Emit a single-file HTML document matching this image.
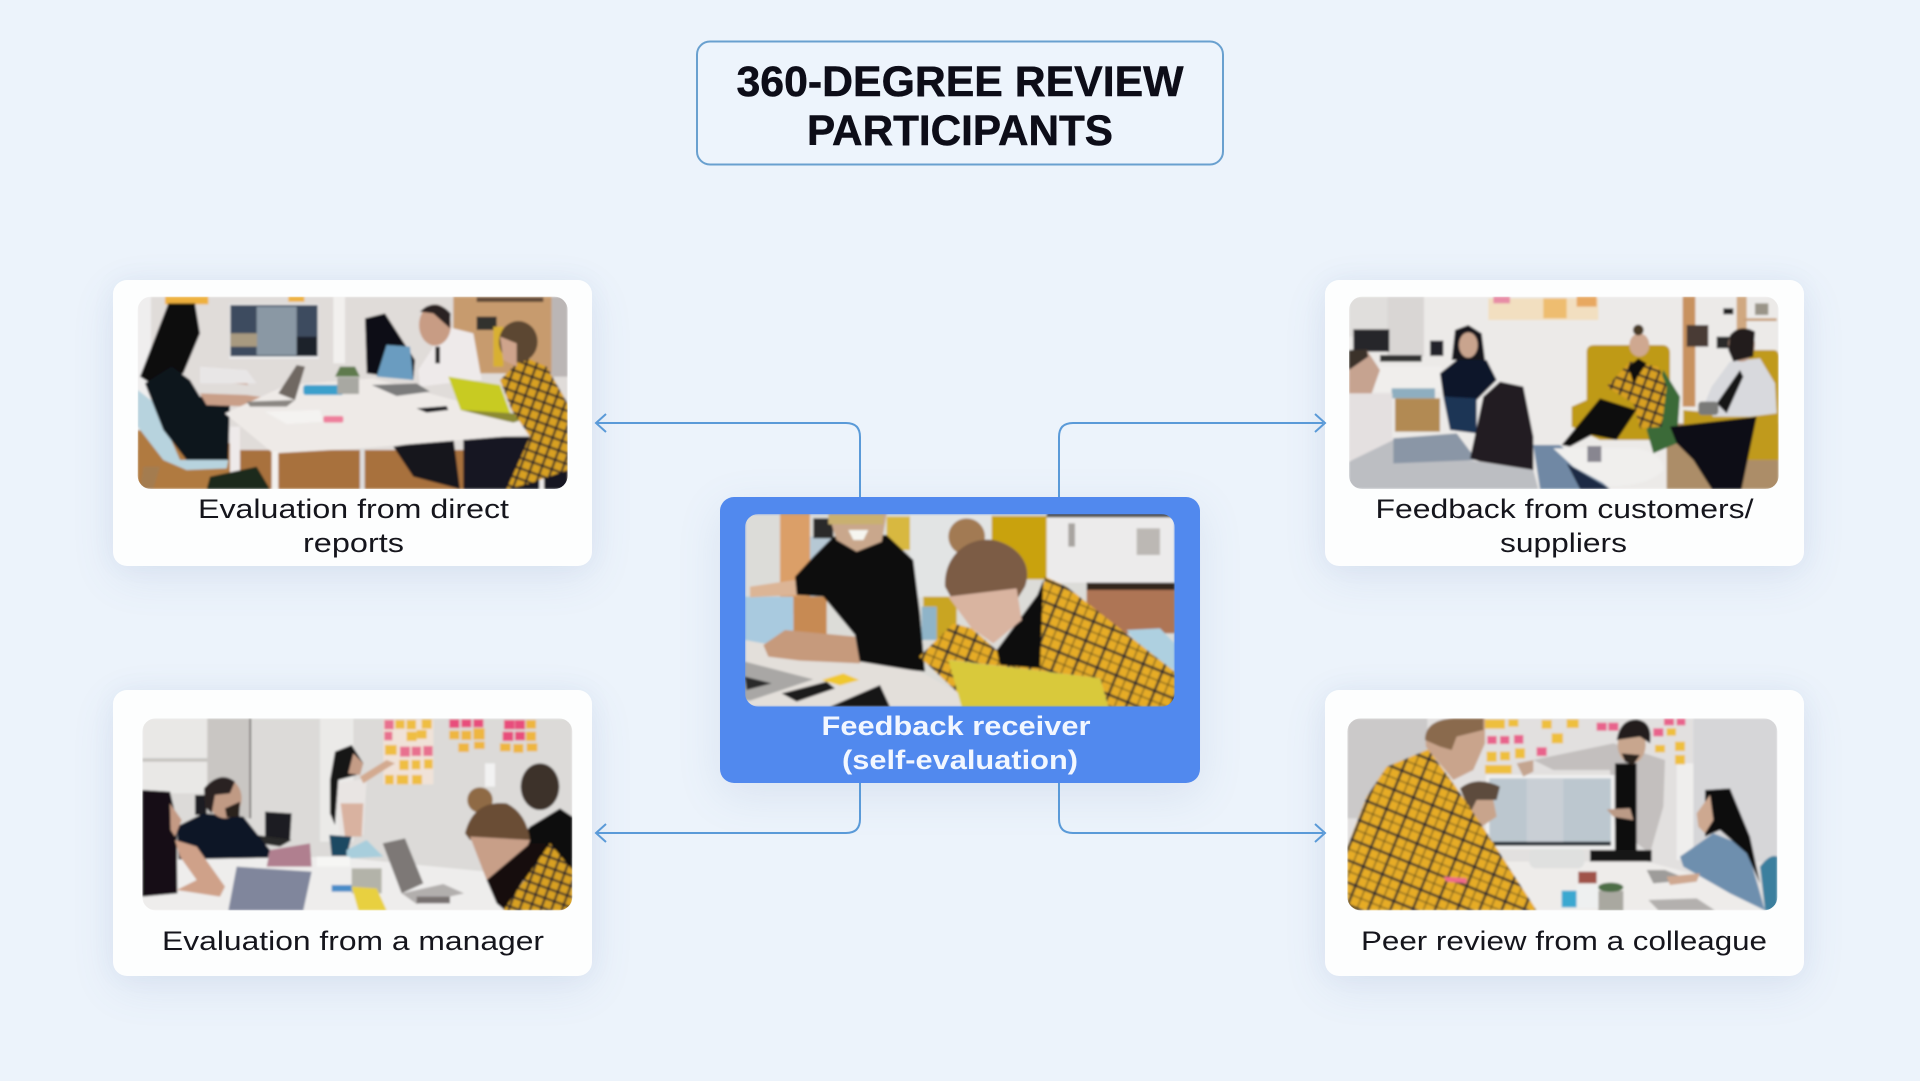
<!DOCTYPE html>
<html lang="en"><head><meta charset="utf-8"><title>360-Degree Review Participants</title>
<style>
html,body{margin:0;padding:0;background:#ecf3fb;width:1920px;height:1081px;overflow:hidden}
.c{position:absolute;border-radius:14px;background:#fdfefe;box-shadow:0 12px 44px rgba(90,120,170,.11),0 0 24px rgba(90,120,170,.06)}
svg{position:absolute;left:0;top:0}
text{font-family:"Liberation Sans",sans-serif;fill:#15151c}
</style></head><body>
<div class="c" style="left:113px;top:280px;width:479px;height:286px"></div>
<div class="c" style="left:1325px;top:280px;width:479px;height:286px"></div>
<div class="c" style="left:113px;top:690px;width:479px;height:286px"></div>
<div class="c" style="left:1325px;top:690px;width:479px;height:286px"></div>
<div class="c" style="left:720px;top:497px;width:480px;height:286px;background:#5189ee;box-shadow:0 12px 44px rgba(90,120,170,.13)"></div>
<svg width="1920" height="1081" viewBox="0 0 1920 1081" xmlns="http://www.w3.org/2000/svg">
<defs>
<pattern id="pl" width="62" height="62" patternUnits="userSpaceOnUse" patternTransform="rotate(22)">
<rect width="62" height="62" fill="#e6ac26"/><rect width="62" height="7" y="10" fill="#2a2a2e"/><rect width="7" height="62" x="10" fill="#2a2a2e"/><rect width="62" height="3" y="42" fill="#5a4a20"/><rect width="3" height="62" x="42" fill="#5a4a20"/></pattern>
<pattern id="pl2" width="30" height="30" patternUnits="userSpaceOnUse" patternTransform="rotate(20)">
<rect width="30" height="30" fill="#d8a020"/><rect width="30" height="6" y="5" fill="#24242a"/><rect width="6" height="30" x="5" fill="#24242a"/></pattern>
<filter id="b" x="-5%" y="-5%" width="110%" height="110%"><feGaussianBlur stdDeviation="3.5"/></filter>
<clipPath id="c1"><rect x="113" y="80" width="1290" height="577" rx="40"/></clipPath>
<clipPath id="c2"><rect x="135" y="102" width="1289" height="578" rx="40"/></clipPath>
<clipPath id="c3"><rect x="127" y="115" width="1290" height="576" rx="40"/></clipPath>
<clipPath id="c4"><rect x="147" y="80" width="1289" height="577" rx="40"/></clipPath>
<clipPath id="c5"><rect x="142" y="115" width="1290" height="576" rx="40"/></clipPath>
</defs>

<rect x="697" y="41.5" width="526" height="123" rx="13" fill="#edf4fc" stroke="#69a0cf" stroke-width="2"/>
<text x="960" y="96" font-size="43" font-weight="700" text-anchor="middle" textLength="447" lengthAdjust="spacingAndGlyphs" style="fill:#0d0d18;stroke:#0d0d18;stroke-width:.5">360-DEGREE REVIEW</text>
<text x="960" y="145" font-size="43" font-weight="700" text-anchor="middle" textLength="306" lengthAdjust="spacingAndGlyphs" style="fill:#0d0d18;stroke:#0d0d18;stroke-width:.5">PARTICIPANTS</text>

<g fill="none" stroke="#5a9ad8" stroke-width="2">
<path d="M860 497V437Q860 423 846 423H597"/><path d="M606 414L596 423L606 432"/>
<path d="M1059 497V437Q1059 423 1073 423H1323"/><path d="M1315 414L1325 423L1315 432"/>
<path d="M860 783V819Q860 833 846 833H597"/><path d="M606 824L596 833L606 842"/>
<path d="M1059 783V819Q1059 833 1073 833H1323"/><path d="M1315 824L1325 833L1315 842"/>
</g>

<!-- Image: top-left -->
<g transform="translate(100,270) scale(.33333)"><g clip-path="url(#c1)"><g filter="url(#b)">
<rect x="113" y="80" width="1290" height="577" fill="#e0dcd9"/>
<rect x="113" y="80" width="40" height="400" fill="#efeeee"/>
<rect x="700" y="80" width="35" height="200" fill="#f2f0ee"/>
<rect x="195" y="80" width="130" height="23" fill="#eeb13c"/><rect x="565" y="80" width="48" height="15" fill="#eeb13c"/>
<rect x="388" y="102" width="268" height="164" fill="#f0f0f0"/><rect x="391" y="105" width="262" height="154" fill="#3d4c5e"/>
<rect x="470" y="110" width="120" height="145" fill="#8a98a4"/><rect x="391" y="190" width="80" height="40" fill="#a89a80"/><rect x="590" y="200" width="62" height="58" fill="#1d242c"/>
<rect x="1060" y="80" width="295" height="230" fill="#c79b6e"/><rect x="1355" y="80" width="48" height="240" fill="#bbb6b5"/>
<rect x="1130" y="140" width="60" height="40" fill="#33302e"/><rect x="1180" y="170" width="30" height="120" fill="#d8b030"/><rect x="1130" y="82" width="200" height="14" fill="#5f4a38"/>
<rect x="113" y="540" width="1290" height="117" fill="#a8713c"/>
<polygon points="113,480 390,520 390,657 113,657" fill="#b07a40"/>
<rect x="1090" y="500" width="313" height="157" fill="#181820"/><polygon points="880,530 1060,500 1080,657 940,620" fill="#15151a"/>
<polygon points="113,360 165,400 240,570 385,570 380,595 260,600 190,570 113,470" fill="#b7d3de"/>
<polygon points="130,590 180,590 160,657 120,657" fill="#a47b50"/>
<polygon points="120,320 205,100 285,100 300,190 250,310 160,345" fill="#0e0c10"/>
<polygon points="215,290 270,330 300,380 390,380 385,570 260,570 190,480 135,340" fill="#11161f"/>
<polygon points="300,370 440,375 515,385 450,410 320,405" fill="#c99f88"/>
<polygon points="345,305 420,310 445,345 360,335" fill="#c9a08d"/>
<polygon points="300,290 440,300 470,340 300,340" fill="#e8e6e6"/>
<polygon points="375,430 560,345 820,325 1100,400 1390,465 1390,485 780,535 520,550" fill="#eeeae7"/>
<rect x="515" y="545" width="20" height="112" fill="#f3f1ee"/><rect x="390" y="470" width="30" height="140" fill="#eeeaea"/><rect x="1318" y="485" width="14" height="172" fill="#eeeaea"/><rect x="780" y="535" width="14" height="122" fill="#ddd"/>
<polygon points="330,620 470,590 510,657 320,657" fill="#1e2a1a"/>
<polygon points="535,370 590,285 615,290 585,390" fill="#6f6862"/><polygon points="440,395 585,390 560,410 450,410" fill="#8a8682"/>
<polygon points="495,425 660,420 670,455 560,462" fill="#f4f3f1"/><rect x="670" y="438" width="60" height="20" rx="6" fill="#ee7f9c"/>
<rect x="610" y="345" width="120" height="30" rx="8" fill="#3aa0cc"/>
<rect x="712" y="322" width="65" height="50" fill="#a8a8a2"/><polygon points="705,320 780,320 765,290 720,290" fill="#5e7a4e"/>
<polygon points="795,145 855,130 945,270 940,330 800,310" fill="#100f13"/><polygon points="860,225 930,230 940,330 830,320" fill="#6a9cc0"/>
<polygon points="955,300 1040,170 1120,190 1145,330 1040,340 960,350" fill="#eeeaea"/>
<ellipse cx="1005" cy="165" rx="48" ry="62" fill="#c89c84"/><path d="M960 125Q1005 80 1052 130L1050 175L1000 130Z" fill="#292220"/><rect x="1006" y="230" width="14" height="50" fill="#222"/>
<polygon points="815,345 950,340 990,365 890,378" fill="#7c7c7c"/>
<polygon points="950,415 1040,408 1045,420 980,428" fill="#17171a"/>
<polygon points="1045,320 1200,345 1240,455 1082,420" fill="#c8cb22"/><polygon points="1082,420 1240,458 1280,445 1240,430" fill="#8c8a30"/>
<polygon points="1200,330 1270,260 1340,290 1403,400 1403,600 1290,640 1220,657 1290,500 1235,420" fill="url(#pl2)"/>
<ellipse cx="1255" cy="215" rx="58" ry="62" fill="#5c4630"/><polygon points="1200,200 1250,220 1250,290 1210,270" fill="#cfa48c"/>
</g></g></g>

<!-- Image: centre -->
<g transform="translate(700,480) scale(.33333)"><g clip-path="url(#c2)"><g filter="url(#b)">
<rect x="135" y="102" width="1289" height="578" fill="#dcdcd8"/>
<rect x="240" y="102" width="90" height="300" fill="#db9f68"/><rect x="280" y="350" width="100" height="140" fill="#c78a52"/>
<rect x="135" y="350" width="145" height="140" fill="#a9cadf"/><rect x="330" y="170" width="70" height="180" fill="#b6c8d4"/><rect x="340" y="115" width="60" height="60" fill="#2c2a2a"/>
<rect x="560" y="110" width="70" height="100" fill="#d8b840"/><rect x="630" y="102" width="245" height="250" fill="#e2e4e4"/>
<rect x="875" y="108" width="190" height="190" fill="#c9a20c"/><rect x="670" y="350" width="100" height="130" fill="#c9a520"/><rect x="665" y="380" width="45" height="100" fill="#8fb4c8"/>
<rect x="1040" y="108" width="384" height="200" fill="#ecebeb"/><rect x="1105" y="130" width="20" height="70" fill="#a8a4a0"/><rect x="1310" y="145" width="70" height="80" fill="#bcb8b4"/><rect x="1040" y="102" width="384" height="10" fill="#4d4a42"/>
<rect x="1160" y="308" width="264" height="22" fill="#33261e"/><rect x="1160" y="330" width="264" height="130" fill="#ae7454"/>
<polygon points="1280,450 1380,445 1424,490 1424,570 1350,540" fill="#aed0e0"/>
<polygon points="150,320 285,300 295,345 150,352" fill="#dcb596"/>
<polygon points="285,290 340,230 400,170 560,165 640,240 660,400 675,575 480,555 465,465 370,350 290,345" fill="#0c0c0e"/>
<polygon points="385,102 560,102 545,185 470,215 410,180" fill="#c9a78c"/><rect x="385" y="105" width="165" height="28" fill="#c9b070"/><polygon points="445,150 505,150 490,180 460,180" fill="#f6f6f0"/>
<polygon points="135,480 480,545 660,575 780,640 785,680 135,680" fill="#e3dfda"/>
<polygon points="190,495 255,450 465,470 480,550 300,542 205,530" fill="#c69a7c"/>
<polygon points="135,545 340,598 150,662 135,660" fill="#a9a7a5"/><polygon points="135,590 215,610 140,630" fill="#2a2a2c"/>
<polygon points="245,640 380,605 405,625 290,665" fill="#1f1b1b"/><polygon points="365,600 430,580 478,600 420,616" fill="#f0c82e"/><polygon points="390,680 540,615 570,680" fill="#171519"/>
<polygon points="658,530 760,430 815,445 890,510 1020,370 1035,290 1100,320 1424,575 1424,680 1225,680 1200,595 750,540 775,640" fill="url(#pl)"/>
<polygon points="890,510 1012,345 1030,300 1020,565 900,555" fill="#0f0f10"/>
<circle cx="800" cy="170" r="55" fill="#a27a52"/><path d="M735 320C730 230 800 170 880 180C950 195 1000 250 975 320L950 360L760 365Z" fill="#7b5c44"/>
<polygon points="745,350 950,325 965,420 880,490 815,445" fill="#d9b4a0"/>
<polygon points="745,540 1200,595 1225,680 785,680" fill="#d9c93a"/>
</g></g></g>

<!-- Image: bottom-left -->
<g transform="translate(100,680) scale(.33333)"><g clip-path="url(#c3)"><g filter="url(#b)">
<rect x="127" y="115" width="1290" height="576" fill="#dcdad8"/>
<rect x="127" y="115" width="195" height="225" fill="#e9e8e6"/><rect x="127" y="235" width="195" height="10" fill="#c5c2bf"/><rect x="322" y="115" width="130" height="300" fill="#c9c6c3"/><rect x="449" y="115" width="4" height="300" fill="#4a4644"/><rect x="660" y="115" width="100" height="370" fill="#ebeae8"/>
<rect x="850" y="118" width="150" height="195" fill="#f0e2d8"/>
<g fill="#e8718f"><rect x="853" y="120" width="28" height="28"/><rect x="853" y="155" width="24" height="26"/><rect x="900" y="200" width="30" height="30"/><rect x="935" y="200" width="28" height="28"/><rect x="970" y="198" width="28" height="30"/></g>
<g fill="#efbe43"><rect x="886" y="120" width="28" height="26"/><rect x="920" y="120" width="28" height="28"/><rect x="965" y="118" width="30" height="28"/><rect x="920" y="155" width="30" height="28"/><rect x="950" y="150" width="30" height="26"/><rect x="855" y="195" width="35" height="30"/><rect x="898" y="240" width="28" height="30"/><rect x="935" y="240" width="26" height="28"/><rect x="972" y="238" width="26" height="28"/><rect x="855" y="285" width="26" height="28"/><rect x="890" y="285" width="35" height="28"/><rect x="936" y="285" width="30" height="28"/></g>
<g fill="#e84d7c"><rect x="1048" y="118" width="30" height="26"/><rect x="1084" y="118" width="30" height="24"/><rect x="1120" y="118" width="30" height="24"/><rect x="1212" y="120" width="32" height="28"/><rect x="1245" y="120" width="30" height="28"/><rect x="1208" y="155" width="32" height="28"/><rect x="1245" y="155" width="30" height="26"/></g>
<g fill="#eeb640"><rect x="1048" y="152" width="30" height="26"/><rect x="1084" y="152" width="30" height="28"/><rect x="1120" y="145" width="34" height="34"/><rect x="1075" y="190" width="32" height="26"/><rect x="1122" y="185" width="32" height="22"/><rect x="1278" y="120" width="30" height="26"/><rect x="1278" y="155" width="30" height="28"/><rect x="1200" y="190" width="32" height="24"/><rect x="1240" y="192" width="30" height="26"/><rect x="1280" y="190" width="32" height="24"/></g>
<rect x="1155" y="250" width="30" height="70" fill="#f2f2f2"/>
<polygon points="700,310 800,295 790,465 720,470" fill="#e9e5e3"/><polygon points="780,290 860,240 885,250 860,265 790,310" fill="#d3aa90"/><polygon points="722,370 790,370 785,470 735,470" fill="#d9b2a0"/>
<polygon points="690,300 705,215 755,195 790,250 770,285 715,300 705,435 690,400" fill="#151315"/><polygon points="760,220 790,250 780,285 745,280" fill="#c49c86"/>
<polygon points="688,465 755,470 740,528 695,528" fill="#1c4a62"/>
<polygon points="495,395 575,400 570,480 495,470" fill="#1e1e20"/><polygon points="470,465 575,480 540,500 480,490" fill="#2c2c2c"/>
<rect x="285" y="345" width="35" height="60" fill="#1d1d20"/>
<polygon points="230,440 310,400 430,410 510,510 500,550 370,590 240,590" fill="#0e1525"/>
<ellipse cx="375" cy="355" rx="50" ry="60" fill="#c09a84"/><path d="M312 325Q360 270 405 305L390 340L345 345L335 400L315 380Z" fill="#2a2320"/><polygon points="375,385 420,365 418,410 380,412" fill="#2a211e"/>
<polygon points="127,540 700,530 1160,575 1210,691 127,691" fill="#eeedec"/>
<polygon points="127,330 210,335 230,420 232,640 127,650" fill="#121012"/><polygon points="225,480 290,500 375,620 360,650 230,630 290,600 240,530" fill="#cfa189"/><polygon points="210,370 245,420 225,470 212,450" fill="#c49a84"/>
<polygon points="510,510 630,490 635,560 500,560" fill="#b07f8f"/>
<polygon points="410,560 635,575 610,691 385,691" fill="#80869c"/>
<polygon points="740,510 800,480 850,530 740,535" fill="#a8cedc"/><rect x="755" y="565" width="90" height="75" fill="#b3b3a9"/><rect x="695" y="615" width="60" height="20" fill="#4a8cc8"/>
<polygon points="755,620 830,625 860,691 775,691" fill="#e8d040"/><rect x="650" y="530" width="100" height="30" fill="#f6f6f4"/>
<polygon points="848,490 915,475 970,610 905,640" fill="#7d7876"/><polygon points="905,640 1030,612 1092,640 950,672" fill="#b2afad"/><rect x="950" y="650" width="100" height="20" fill="#77716f"/>
<ellipse cx="1320" cy="320" rx="58" ry="70" fill="#3e332a"/><polygon points="1290,440 1380,385 1417,410 1417,600 1160,600" fill="#0e0d10"/>
<circle cx="1140" cy="360" r="38" fill="#8f6a44"/><path d="M1095 460Q1120 360 1220 370Q1280 400 1290 480L1110 480Z" fill="#6b4e36"/>
<polygon points="1110,470 1290,480 1225,640 1160,600" fill="#c89f88"/><polygon points="1160,600 1290,490 1340,490 1215,691 1190,670" fill="#14110f"/>
<polygon points="1210,691 1350,490 1417,570 1417,691" fill="url(#pl2)"/>
</g></g></g>

<!-- Image: top-right -->
<g transform="translate(1300,270) scale(.33333)"><g clip-path="url(#c4)"><g filter="url(#b)">
<rect x="147" y="80" width="1289" height="577" fill="#eceae8"/>
<rect x="147" y="80" width="115" height="120" fill="#e0dedc"/><rect x="262" y="80" width="110" height="180" fill="#d9d6d4"/>
<rect x="565" y="85" width="330" height="65" fill="#f2dfc0"/><rect x="580" y="80" width="50" height="20" fill="#e88ca6"/><rect x="730" y="85" width="70" height="60" fill="#eebd70"/><rect x="830" y="80" width="60" height="30" fill="#e8a860"/>
<rect x="160" y="178" width="108" height="67" fill="#28282c"/><rect x="390" y="212" width="40" height="46" fill="#24242a"/><rect x="240" y="255" width="125" height="20" fill="#333"/>
<rect x="225" y="290" width="200" height="75" fill="#f0eeec"/><rect x="275" y="355" width="130" height="30" fill="#8eaec0"/>
<rect x="285" y="385" width="135" height="100" fill="#b28a52"/>
<polygon points="455,270 465,180 505,165 545,190 555,270" fill="#19121a"/><ellipse cx="505" cy="225" rx="28" ry="38" fill="#c9a48e"/>
<polygon points="420,310 470,270 560,270 590,330 530,390 430,380" fill="#11182a"/><polygon points="430,380 530,385 530,490 450,480" fill="#1d3455"/>
<rect x="1100" y="460" width="336" height="197" fill="#ac8d68"/>
<rect x="1148" y="80" width="38" height="330" fill="#c8925f"/><rect x="1310" y="80" width="30" height="150" fill="#d0a880"/><rect x="1330" y="145" width="100" height="8" fill="#c8a07a"/>
<rect x="1160" y="165" width="65" height="65" fill="#4a3a34"/><rect x="1250" y="200" width="45" height="35" fill="#2a2a2c"/><rect x="1270" y="115" width="30" height="18" fill="#222"/><rect x="1365" y="100" width="40" height="35" fill="#9a9488"/>
<path d="M860 420V245Q860 225 885 225H1085Q1110 225 1110 250V400H1090V510H900L815 470V410L860 390Z" fill="#bf9a18"/>
<polygon points="1090,300 1140,380 1130,520 1060,550 1040,480" fill="#3a6a38"/>
<polygon points="920,350 990,275 1075,290 1100,350 1085,470 1020,475 1000,400" fill="url(#pl2)"/>
<polygon points="985,290 1015,265 1040,280 1000,340" fill="#111"/>
<ellipse cx="1018" cy="225" rx="30" ry="35" fill="#cfa890"/><circle cx="1015" cy="180" r="16" fill="#4a3a28"/>
<polygon points="785,525 900,385 1010,420 950,510 875,495 810,530" fill="#0d0d10"/>
<path d="M1340 280V240H1420Q1436 240 1436 260V570H1310L1150 470V420L1250 430Z" fill="#c09a1a"/>
<polygon points="1110,470 1370,440 1325,657 1235,657 1180,570 1130,520" fill="#0f0f12"/>
<polygon points="1235,350 1290,275 1380,265 1425,340 1430,430 1350,440 1240,440 1210,410" fill="#d8d9dd"/>
<polygon points="1250,400 1320,300 1330,320 1280,430" fill="#141418"/>
<ellipse cx="1325" cy="225" rx="40" ry="50" fill="#c09a84"/><path d="M1290 195Q1320 160 1365 185L1360 260L1300 275L1285 240Z" fill="#241c1a"/>
<rect x="1195" y="395" width="60" height="40" rx="10" fill="#7a7a78"/>
<rect x="147" y="370" width="130" height="200" fill="#e4e0e0"/><polygon points="147,240 200,240 240,300 215,370 147,370" fill="#c6a390"/><polygon points="147,240 200,238 205,260 147,300" fill="#3a302c"/>
<polygon points="147,575 280,510 500,570 700,600 715,657 147,657" fill="#bcbec2"/><polygon points="280,505 470,490 530,570 280,580" fill="#8a96a6"/>
<polygon points="700,525 780,525 930,657 720,657" fill="#6f88a4"/><polygon points="800,580 930,657 840,657" fill="#1c2c44"/>
<polygon points="510,565 550,380 600,335 670,350 700,500 700,600 540,575" fill="#221a24"/>
<path d="M760 535H1010Q1090 550 1090 600Q1050 645 930 650L820 590Z" fill="#f0efed"/><rect x="862" y="528" width="42" height="48" fill="#888690"/>
</g></g></g>

<!-- Image: bottom-right -->
<g transform="translate(1300,680) scale(.33333)"><g clip-path="url(#c5)"><g filter="url(#b)">
<rect x="142" y="115" width="1290" height="576" fill="#e2e0df"/><rect x="142" y="115" width="240" height="300" fill="#cbc9c9"/><rect x="1180" y="115" width="252" height="430" fill="#d6d6d8"/><rect x="1130" y="250" width="50" height="290" fill="#efeeed"/>
<g fill="#eebf3c"><rect x="555" y="118" width="60" height="28"/><rect x="625" y="118" width="30" height="22"/><rect x="725" y="120" width="30" height="26"/><rect x="800" y="118" width="36" height="26"/><rect x="755" y="160" width="34" height="30"/><rect x="560" y="215" width="30" height="30"/><rect x="600" y="215" width="30" height="26"/><rect x="645" y="205" width="30" height="30"/><rect x="555" y="255" width="80" height="26"/><rect x="1100" y="145" width="28" height="22"/><rect x="1065" y="195" width="30" height="22"/><rect x="1125" y="185" width="30" height="28"/><rect x="1125" y="225" width="30" height="28"/></g>
<g fill="#e8638c"><rect x="562" y="168" width="28" height="24"/><rect x="600" y="168" width="28" height="24"/><rect x="642" y="165" width="28" height="26"/><rect x="710" y="202" width="30" height="26"/><rect x="890" y="128" width="30" height="24"/><rect x="925" y="128" width="30" height="24"/><rect x="1060" y="145" width="30" height="24"/><rect x="1092" y="116" width="30" height="20"/><rect x="1130" y="116" width="26" height="20"/></g>
<polygon points="700,240 940,190 1095,240 1090,380 1050,520 945,440 930,270 760,270" fill="#c3bfbe"/>
<rect x="945" y="250" width="65" height="290" fill="#0f0f10"/><polygon points="870,510 1055,510 1055,545 870,545" fill="#131315"/>
<ellipse cx="995" cy="195" rx="42" ry="55" fill="#c8a68e"/><path d="M950 180Q960 118 1010 118Q1060 125 1050 190L1020 170Z" fill="#221d1b"/><polygon points="965,220 1020,225 1000,255 975,245" fill="#2a211e"/>
<polygon points="420,545 1040,545 1250,600 1432,691 420,691" fill="#eeecea"/>
<rect x="688" y="505" width="165" height="60" rx="20" fill="#dfe0df"/>
<rect x="558" y="285" width="385" height="222" fill="#f0f0f0"/><rect x="568" y="295" width="365" height="190" fill="#bcc7cf"/><rect x="568" y="485" width="365" height="12" fill="#222a30"/><rect x="680" y="295" width="110" height="190" fill="#c9cfd5"/>
<polygon points="920,388 990,385 1000,420 940,410" fill="#bb9a86"/>
<polygon points="500,360 580,360 590,410 530,450 500,410" fill="#c8a48c"/><path d="M480 325Q530 285 600 320L590 360L530 360L510 400Z" fill="#5d4c3c"/>
<polygon points="142,500 200,350 260,260 385,208 460,310 545,435 710,691 142,691" fill="url(#pl)"/>
<path d="M378 200C370 130 420 115 470 115H555V190L520 270L460 300L385 210Z" fill="#c9a48c"/><path d="M375 180C375 130 420 115 470 115H550V150L470 170L455 210L420 200Z" fill="#8a6b4e"/>
<polygon points="650,250 700,240 700,275 670,290" fill="#c4a590"/>
<polygon points="1140,530 1240,460 1340,500 1395,691 1290,640 1150,560" fill="#6e8fae"/>
<polygon points="1215,330 1290,325 1350,470 1380,610 1340,520 1260,450 1215,470" fill="#0e0c10"/><polygon points="1190,400 1230,345 1240,420 1215,460 1195,440" fill="#cda890"/>
<path d="M1380 560Q1410 520 1432 530V691H1395Z" fill="#3a7f9e"/>
<polygon points="1040,570 1095,570 1170,600 1060,610" fill="#9e9c9a"/><polygon points="1100,590 1200,580 1190,605 1110,615" fill="#cfa890"/>
<polygon points="1045,660 1190,655 1245,691 1075,691" fill="#b3b0ae"/>
<rect x="895" y="632" width="75" height="60" fill="#a9a8a0"/><ellipse cx="932" cy="622" rx="38" ry="14" fill="#4e6e46"/>
<rect x="785" y="632" width="45" height="50" fill="#3aa8d0"/><rect x="830" y="615" width="65" height="70" fill="#eef0f0"/><rect x="835" y="575" width="55" height="35" fill="#a0524a"/>
<polygon points="430,590 500,595 500,610 440,605" fill="#ee6a8a"/>
</g></g></g>

<text x="353.5" y="518" font-size="27" text-anchor="middle" textLength="311" lengthAdjust="spacingAndGlyphs">Evaluation from direct</text>
<text x="353.5" y="552" font-size="27" text-anchor="middle" textLength="101" lengthAdjust="spacingAndGlyphs">reports</text>
<text x="1564.5" y="518" font-size="27" text-anchor="middle" textLength="378" lengthAdjust="spacingAndGlyphs">Feedback from customers/</text>
<text x="1563.5" y="552" font-size="27" text-anchor="middle" textLength="127" lengthAdjust="spacingAndGlyphs">suppliers</text>
<text x="353" y="950" font-size="27" text-anchor="middle" textLength="382" lengthAdjust="spacingAndGlyphs">Evaluation from a manager</text>
<text x="1564" y="950" font-size="27" text-anchor="middle" textLength="406" lengthAdjust="spacingAndGlyphs">Peer review from a colleague</text>
<text x="956" y="735" font-size="27" font-weight="700" text-anchor="middle" textLength="269" lengthAdjust="spacingAndGlyphs" style="fill:#f2f7ff">Feedback receiver</text>
<text x="960" y="769" font-size="27" font-weight="700" text-anchor="middle" textLength="236" lengthAdjust="spacingAndGlyphs" style="fill:#f2f7ff">(self-evaluation)</text>
</svg>
</body></html>
